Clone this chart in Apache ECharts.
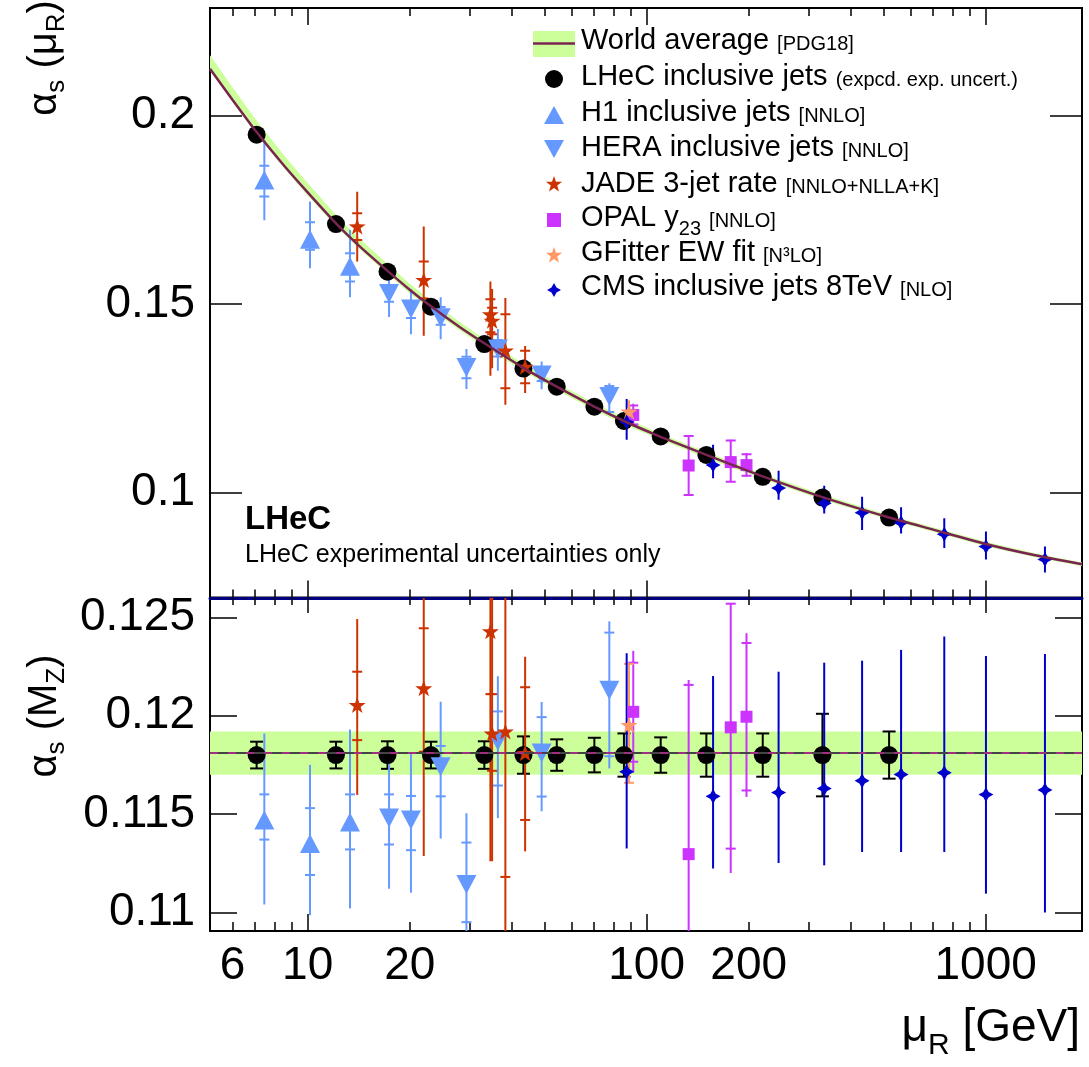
<!DOCTYPE html>
<html><head><meta charset="utf-8">
<script src="https://cdn.jsdelivr.net/npm/echarts@6/dist/echarts.min.js"></script>
<style>html,body{margin:0;padding:0;background:#fff}#c{width:1089px;height:1067px}</style>
</head><body><div id="c"></div>
<script>
// ---------- axes ----------
const X_MIN = 5.151, X_MAX = 1924;
const X_TICKS_MINOR = [6,7,8,9,20,30,40,50,60,70,80,90,200,300,400,500,600,700,800,900];
const X_TICKS_MAJOR = [10,100,1000];
const X_LABELS = [6,10,20,100,200,1000];
const Y_TOP_MIN = 0.0722, Y_TOP_MAX = 0.2285, Y_TOP_TICKS = [0.1,0.15,0.2];
const Y_BOT_MIN = 0.10905, Y_BOT_MAX = 0.12599, Y_BOT_TICKS = [0.11,0.115,0.12,0.125];

// ---------- world average ----------
const WA = 0.1181, WA_ERR = 0.0011;
const CURVE_MU = [5.151,6,7.07,8.5,10,12.12,14,17.2,20,23.1,28,33.2,43.3,54.3,70.1,85.7,110,150,220,330,519,700,1000,1400,1924];
const CURVE_AS = [0.2124,0.2042,0.1956,0.1868,0.1796,0.1714,0.1659,0.1588,0.1538,0.1494,0.1440,0.1396,0.1331,0.1281,0.1228,0.1190,0.1148,0.1100,0.1043,0.0988,0.0934,0.0902,0.0864,0.0834,0.0810];
const BAND_HI  = [0.2160,0.2075,0.1986,0.1895,0.1821,0.1736,0.1679,0.1606,0.1554,0.1509,0.1453,0.1408,0.1342,0.1291,0.1237,0.1199,0.1156,0.1108,0.1050,0.0995,0.0940,0.0908,0.0870,0.0839,0.0815];
const BAND_LO  = [0.2119,0.2036,0.1949,0.1861,0.1788,0.1706,0.1651,0.1580,0.1529,0.1485,0.1431,0.1387,0.1322,0.1272,0.1219,0.1181,0.1140,0.1092,0.1036,0.0981,0.0928,0.0896,0.0858,0.0829,0.0805];

// ---------- LHeC ----------
const LHEC_MU  = [7.07,12.12,17.2,23.1,33.2,43.3,54.3,70.1,85.7,110,150,220,330,519];
const LHEC_TOP = [0.1949,0.1712,0.1586,0.1493,0.1394,0.1329,0.1281,0.1228,0.1190,0.1149,0.1100,0.1042,0.0987,0.0934];
const LHEC_BOT = [0.1180,0.1180,0.1180,0.1180,0.1180,0.1180,0.1180,0.1180,0.1180,0.1180,0.1180,0.1180,0.1180,0.1180];
const LHEC_BOT_ERR = [0.00068,0.00068,0.0007,0.00068,0.0007,0.00095,0.0008,0.00088,0.0011,0.0009,0.0011,0.0011,0.0021,0.0012];

// [mu, value, totalLow, totalHigh, innerLow, innerHigh]
const H1_TOP = [[7.45,0.1829,0.1722,0.1936,0.1785,0.1867],[10.16,0.1672,0.1595,0.1772,0.1644,0.1717],[13.33,0.1600,0.1518,0.1697,0.1560,0.1635]];
const H1_BOT = [[7.45,0.1147,0.1104,0.1191,0.1137,0.1160],[10.16,0.1135,0.10985,0.1175,0.1119,0.1153],[13.33,0.1146,0.1102,0.1193,0.1132,0.1160]];
const HERA_TOP = [[17.38,0.1528,0.1466,0.1570,0.1506,0.1548],[20.17,0.1487,0.1420,0.1540,0.1463,0.1506],[24.68,0.1464,0.1407,0.1518,0.1445,0.1492],[29.4,0.1332,0.1275,0.1381,0.1303,0.1360],[36.4,0.1381,0.1323,0.1434,0.1361,0.1405],[49,0.1312,0.1274,0.1348,0.1296,0.1328],[77.6,0.1255,0.1210,0.1290,0.1214,0.1283]];
const HERA_BOT = [[17.38,0.1148,0.1112,0.11757,0.11345,0.1160],[20.17,0.1147,0.1110,0.11808,0.11316,0.11592],[24.68,0.1174,0.11375,0.12071,0.1159,0.11846],[29.4,0.11142,0.1080,0.11504,0.1095,0.11355],[36.4,0.1187,0.11479,0.12201,0.11645,0.12022],[49,0.1181,0.11514,0.1207,0.11589,0.11993],[77.6,0.1213,0.11732,0.1248,0.11794,0.12423]];
const JADE_TOP = [[14,0.1706,0.1613,0.1798,0.1670,0.1741],[22,0.1564,0.1416,0.1706,0.1515,0.1613],[34.6,0.1473,0.1310,0.1560,0.1425,0.1513],[35,0.1456,0.1330,0.1540,0.1420,0.1490],[38.3,0.1377,0.1233,0.1516,0.1277,0.1473],[43.8,0.1334,0.1264,0.1389,0.1290,0.1376]];
const JADE_BOT = [[14,0.12055,0.11597,0.12492,0.11876,0.12224],[22,0.1214,0.11286,0.1300,0.11817,0.12445],[34.6,0.1243,0.1126,0.1360,0.1211,0.1275],[35,0.1191,0.1126,0.1300,0.1172,0.1211],[38.3,0.1192,0.1000,0.1380,0.1118,0.1266],[43.8,0.1181,0.1131,0.1230,0.1147,0.12145]];
const OPAL_TOP = [[91.3,0.1206,0.1176,0.1236,0.1181,0.1231],[133,0.1072,0.0994,0.1150,0.0994,0.1150],[177,0.1081,0.1029,0.1140,0.1029,0.1138],[197,0.1073,0.1042,0.1105,0.1045,0.1102]];
const OPAL_BOT = [[91.3,0.1202,0.1171,0.1233,0.11766,0.1227],[133,0.11296,0.1010,0.12182,0.1040,0.12157],[177,0.11941,0.1120,0.12573,0.11324,0.1257],[197,0.11995,0.11587,0.1242,0.1162,0.1237]];
const GF_TOP = [[88.7,0.1215,0.1185,0.1245,null,null]];
const GF_BOT = [[88.7,0.11953,0.11659,0.12264,0.11659,0.12264]];
const CMS_TOP = [[87.3,0.1187,0.1140,0.1248],[157,0.1073,0.1038,0.1127],[245,0.1012,0.0981,0.1058],[334,0.0972,0.0945,0.1018],[432,0.0947,0.0901,0.0989],[563,0.0920,0.0892,0.0961],[755,0.0890,0.0853,0.0932],[1002,0.0857,0.0823,0.0897],[1496,0.0823,0.0788,0.0857]];
const CMS_BOT = [[87.3,0.11715,0.11325,0.12318],[157,0.1159,0.11223,0.12202],[245,0.11609,0.11251,0.12224],[334,0.1163,0.11239,0.1227],[432,0.11669,0.11307,0.1228],[563,0.11701,0.11307,0.12335],[755,0.1171,0.11307,0.12403],[1002,0.11599,0.11095,0.12304],[1496,0.11622,0.10999,0.12314]];

// ---------- styles ----------
const FONT = '"Liberation Sans", Arial, Helvetica, sans-serif';
const C_BAND = '#ccff99', C_CURVE = '#7a2452', C_BLUE = '#6699ff', C_JADE = '#cc3300', C_OPAL = '#cc33ff', C_GF = '#ff9966', C_CMS = '#0000cc';
const STAR_PTS = [[0,-10],[2.35,-3.24],[9.51,-3.09],[3.8,1.24],[5.88,8.09],[0,4],[-5.88,8.09],[-3.8,1.24],[-9.51,-3.09],[-2.35,-3.24]];
const CROSS_PTS = [[0,-10],[3.6,-3.6],[10,0],[3.6,3.6],[0,10],[-3.6,3.6],[-10,0],[-3.6,-3.6]];
const toPath = pts => 'path://M' + pts.map(p => p.join(',')).join(' L') + ' Z';
const STAR = toPath(STAR_PTS);
const CROSS = toPath(CROSS_PTS);
const shapeAt = (pts, cx, cy, k) => pts.map(p => [cx + p[0] * k, cy + p[1] * k]);

const L10 = Math.log10;
function helperX(grid, pos, vals, len, withLabels, line) {
  return {
    type: 'value', gridIndex: grid, position: pos, min: L10(X_MIN), max: L10(X_MAX),
    axisLine: line ? {show: true, onZero: false, lineStyle: line} : {show: false, onZero: false},
    axisTick: {show: true, inside: true, length: len, customValues: vals.map(L10), lineStyle: {color: '#000', width: 1.5}},
    axisLabel: withLabels ? {show: true, customValues: X_LABELS.map(L10), formatter: v => String(Math.round(Math.pow(10, v))),
      fontSize: 46, fontFamily: FONT, color: '#000', margin: 12} : {show: false},
    splitLine: {show: false}
  };
}
function yAx(grid, pos, min, max, ticks, len, withLabels) {
  return {
    type: 'value', gridIndex: grid, position: pos, min, max,
    axisLine: {show: false}, splitLine: {show: false},
    axisTick: {show: true, inside: true, length: len, customValues: ticks, lineStyle: {color: '#000', width: 1.5}},
    axisLabel: withLabels ? {show: true, customValues: ticks, fontSize: 46, fontFamily: FONT, color: '#000', margin: 15} : {show: false}
  };
}
function errSeries(rows, color, xi, yi, cap, lw) {
  return {
    type: 'custom', xAxisIndex: xi, yAxisIndex: yi, clip: true, silent: true,
    data: rows.map(r => [r[0], r[2], r[3], r[4] == null ? NaN : r[4], r[5] == null ? NaN : r[5]]),
    encode: {x: 0, y: [1, 2]},
    renderItem(params, api) {
      const x = api.value(0);
      const lo = api.coord([x, api.value(1)]), hi = api.coord([x, api.value(2)]);
      const ch = [{type: 'line', shape: {x1: lo[0], y1: lo[1], x2: hi[0], y2: hi[1]}, style: {stroke: color, lineWidth: lw}}];
      [3, 4].forEach(k => {
        const v = api.value(k);
        if (isFinite(v)) {
          const p = api.coord([x, v]);
          ch.push({type: 'line', shape: {x1: p[0] - cap, y1: p[1], x2: p[0] + cap, y2: p[1]}, style: {stroke: color, lineWidth: lw}});
        }
      });
      return {type: 'group', children: ch};
    }
  };
}
function markSeries(rows, color, xi, yi, symbol, size, rotate) {
  return {
    type: 'scatter', xAxisIndex: xi, yAxisIndex: yi, clip: true, silent: true,
    data: rows.map(r => [r[0], r[1]]), symbol, symbolSize: size, symbolRotate: rotate || 0,
    itemStyle: {color, opacity: 1}
  };
}

const series = [];
series.push({
  type: 'custom', xAxisIndex: 0, yAxisIndex: 0, clip: true, silent: true,
  data: CURVE_MU.map((m, i) => [m, BAND_LO[i], BAND_HI[i]]), encode: {x: 0, y: [1, 2]},
  renderItem(params, api) {
    if (params.dataIndex !== 0) return null;
    const up = [], dn = [];
    for (let i = 0; i < CURVE_MU.length; i++) {
      up.push(api.coord([api.value(0, i), api.value(2, i)]));
      dn.push(api.coord([api.value(0, i), api.value(1, i)]));
    }
    return {type: 'polygon', shape: {points: up.concat(dn.reverse())}, style: {fill: C_BAND}};
  }
});
series.push({type: 'line', xAxisIndex: 0, yAxisIndex: 0, data: CURVE_MU.map((m, i) => [m, CURVE_AS[i]]),
  symbol: 'none', smooth: 0.2, lineStyle: {color: C_CURVE, width: 2.5}, silent: true, clip: true});
series.push({
  type: 'custom', xAxisIndex: 1, yAxisIndex: 2, clip: true, silent: true,
  data: [[X_MIN, WA - WA_ERR], [X_MAX, WA + WA_ERR]], encode: {x: 0, y: 1},
  renderItem(params, api) {
    if (params.dataIndex !== 0) return null;
    const a = api.coord([api.value(0, 0), api.value(1, 0)]), b = api.coord([api.value(0, 1), api.value(1, 1)]);
    return {type: 'rect', shape: {x: a[0], y: b[1], width: b[0] - a[0], height: a[1] - b[1]}, style: {fill: C_BAND}};
  }
});
series.push({type: 'line', xAxisIndex: 1, yAxisIndex: 2, data: [[X_MIN, WA], [X_MAX, WA]], symbol: 'none',
  lineStyle: {color: '#444', width: 2}, silent: true});
series.push({type: 'line', xAxisIndex: 1, yAxisIndex: 2, data: [[X_MIN, WA], [X_MAX, WA]], symbol: 'none',
  lineStyle: {color: '#a0307f', width: 2, type: [8, 10]}, silent: true});

series.push(markSeries(LHEC_MU.map((m, i) => [m, LHEC_TOP[i]]), '#000', 0, 0, 'circle', 18));
series.push(errSeries(LHEC_MU.map((m, i) => [m, LHEC_BOT[i], LHEC_BOT[i] - LHEC_BOT_ERR[i], LHEC_BOT[i] + LHEC_BOT_ERR[i], LHEC_BOT[i] - LHEC_BOT_ERR[i], LHEC_BOT[i] + LHEC_BOT_ERR[i]]), '#000', 1, 2, 6.5, 2));
series.push(markSeries(LHEC_MU.map((m, i) => [m, LHEC_BOT[i]]), '#000', 1, 2, 'circle', 18));

const sets = [
  [H1_TOP, H1_BOT, C_BLUE, 'triangle', [20, 19], 0, 5],
  [HERA_TOP, HERA_BOT, C_BLUE, 'triangle', [20, 19], 180, 5],
  [JADE_TOP, JADE_BOT, C_JADE, STAR, [17, 16], 0, 5],
  [OPAL_TOP, OPAL_BOT, C_OPAL, 'rect', 12, 0, 5],
  [GF_TOP, GF_BOT, C_GF, STAR, [17, 16], 0, 5],
  [CMS_TOP, CMS_BOT, C_CMS, CROSS, 15, 0, 5]
];
sets.forEach(([top, bot, col, sym, size, rot, cap]) => {
  series.push(errSeries(top, col, 0, 0, cap, 2));
  series.push(markSeries(top, col, 0, 0, sym, size, rot));
  series.push(errSeries(bot, col, 1, 2, cap, 2));
  series.push(markSeries(bot, col, 1, 2, sym, size, rot));
});

// ---------- legend & texts ----------
const RICH = {
  m: {fontSize: 29, fontFamily: FONT, color: '#000', verticalAlign: 'top', lineHeight: 30},
  s: {fontSize: 20, fontFamily: FONT, color: '#000', verticalAlign: 'top', lineHeight: 30, padding: [8, 0, 0, 0]},
  sub: {fontSize: 20, fontFamily: FONT, color: '#000', verticalAlign: 'top', lineHeight: 30, padding: [16, 0, 0, 0]}
};
const LEG_X = 581, MK_X = 554;
const legendRows = [
  ['{m|World average }{s|[PDG18]}', 41.7],
  ['{m|LHeC inclusive jets }{s|(expcd. exp. uncert.)}', 77.3],
  ['{m|H1 inclusive jets }{s|[NNLO]}', 113.3],
  ['{m|HERA inclusive jets }{s|[NNLO]}', 148.3],
  ['{m|JADE 3-jet rate }{s|[NNLO+NLLA+K]}', 184],
  ['{m|OPAL y}{sub|23}{m| }{s|[NNLO]}', 218.3],
  ['{m|GFitter EW fit }{s|[N³LO]}', 253.3],
  ['{m|CMS inclusive jets 8TeV }{s|[NLO]}', 287.3]
];
const graphic = [
  {type: 'rect', shape: {x: 533, y: 31, width: 42, height: 26}, style: {fill: C_BAND}, z: 10},
  {type: 'line', shape: {x1: 533, y1: 43.5, x2: 575, y2: 43.5}, style: {stroke: C_CURVE, lineWidth: 2.5}, z: 11},
  {type: 'circle', shape: {cx: MK_X, cy: 79, r: 9}, style: {fill: '#000'}, z: 10},
  {type: 'polygon', shape: {points: [[544, 124], [564, 124], [554, 106]]}, style: {fill: C_BLUE}, z: 10},
  {type: 'polygon', shape: {points: [[544, 140], [564, 140], [554, 158]]}, style: {fill: C_BLUE}, z: 10},
  {type: 'polygon', shape: {points: shapeAt(STAR_PTS, MK_X, 184.5, 0.85)}, style: {fill: C_JADE}, z: 10},
  {type: 'rect', shape: {x: 547, y: 213, width: 14, height: 14}, style: {fill: C_OPAL}, z: 10},
  {type: 'polygon', shape: {points: shapeAt(STAR_PTS, MK_X, 255.5, 0.85)}, style: {fill: C_GF}, z: 10},
  {type: 'polygon', shape: {points: shapeAt(CROSS_PTS, MK_X, 290, 0.7)}, style: {fill: C_CMS}, z: 10},
  {type: 'text', x: 245, y: 520, style: {text: 'LHeC', fontSize: 33, fontWeight: 'bold', fontFamily: FONT, fill: '#000', verticalAlign: 'middle'}, z: 10},
  {type: 'text', x: 245, y: 555, style: {text: 'LHeC experimental uncertainties only', fontSize: 25, fontFamily: FONT, fill: '#000', verticalAlign: 'middle'}, z: 10},
  {type: 'text', x: 47, y: 58, rotation: Math.PI / 2, z: 10, style: {
    text: '{a|α}{b|s}{a| (μ}{b|R}{a|)}', align: 'center', verticalAlign: 'middle',
    rich: {a: {fontSize: 40, fontFamily: FONT, color: '#000', verticalAlign: 'top', lineHeight: 44},
           b: {fontSize: 26, fontFamily: FONT, color: '#000', verticalAlign: 'top', lineHeight: 44, padding: [19, 0, 0, 0]}}}},
  {type: 'text', x: 47, y: 716, rotation: Math.PI / 2, z: 10, style: {
    text: '{a|α}{b|s}{a| (M}{b|Z}{a|)}', align: 'center', verticalAlign: 'middle',
    rich: {a: {fontSize: 40, fontFamily: FONT, color: '#000', verticalAlign: 'top', lineHeight: 44},
           b: {fontSize: 26, fontFamily: FONT, color: '#000', verticalAlign: 'top', lineHeight: 44, padding: [19, 0, 0, 0]}}}},
  {type: 'text', x: 1080, y: 1030, z: 10, style: {
    text: '{a|μ}{b|R}{a| [GeV]}', align: 'right', verticalAlign: 'middle',
    rich: {a: {fontSize: 46, fontFamily: FONT, color: '#000', verticalAlign: 'top', lineHeight: 50},
           b: {fontSize: 30, fontFamily: FONT, color: '#000', verticalAlign: 'top', lineHeight: 50, padding: [26, 0, 0, 0]}}}}
];
legendRows.forEach(([t, y]) => graphic.push({type: 'text', x: LEG_X, y, z: 10,
  style: {text: t, rich: RICH, verticalAlign: 'middle', align: 'left'}}));

const chart = echarts.init(document.getElementById('c'), null, {renderer: 'canvas'});
chart.setOption({
  animation: false,
  backgroundColor: '#fff',
  grid: [
    {left: 210, top: 8, width: 872, height: 589.5, show: true, borderColor: '#000', borderWidth: 2, backgroundColor: 'transparent', containLabel: false, outerBoundsMode: 'none'},
    {left: 210, top: 598, width: 872, height: 333, show: true, borderColor: '#000', borderWidth: 2, backgroundColor: 'transparent', containLabel: false, outerBoundsMode: 'none'}
  ],
  xAxis: [
    {type: 'log', gridIndex: 0, min: X_MIN, max: X_MAX, show: false},
    {type: 'log', gridIndex: 1, min: X_MIN, max: X_MAX, show: false},
    helperX(0, 'top', X_TICKS_MINOR, 8, false),
    helperX(0, 'top', X_TICKS_MAJOR, 17, false),
    helperX(0, 'bottom', X_TICKS_MINOR, 8, false),
    helperX(0, 'bottom', X_TICKS_MAJOR, 17, false),
    helperX(1, 'top', X_TICKS_MINOR, 7, false, {color: '#000080', width: 3}),
    helperX(1, 'top', X_TICKS_MAJOR, 15, false),
    helperX(1, 'bottom', X_TICKS_MINOR, 9, true),
    helperX(1, 'bottom', X_TICKS_MAJOR, 17, false)
  ],
  yAxis: [
    yAx(0, 'left', Y_TOP_MIN, Y_TOP_MAX, Y_TOP_TICKS, 32, true),
    yAx(0, 'right', Y_TOP_MIN, Y_TOP_MAX, Y_TOP_TICKS, 32, false),
    yAx(1, 'left', Y_BOT_MIN, Y_BOT_MAX, Y_BOT_TICKS, 27, true),
    yAx(1, 'right', Y_BOT_MIN, Y_BOT_MAX, Y_BOT_TICKS, 27, false)
  ],
  series,
  graphic
});
</script>
</body></html>
